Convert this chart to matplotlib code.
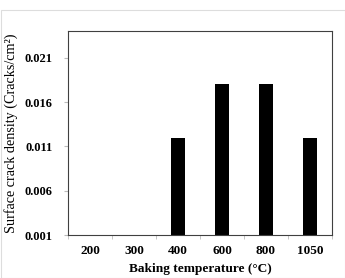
import matplotlib
matplotlib.use("Agg")
import matplotlib.pyplot as plt
from matplotlib.patches import Rectangle

categories = ["200", "300", "400", "600", "800", "1050"]
values = [0.001, 0.001, 0.012, 0.018, 0.018, 0.012]
yticks = [0.001, 0.006, 0.011, 0.016, 0.021]
ytick_labels = ["0.001", "0.006", "0.011", "0.016", "0.021"]

plt.rcParams['font.family'] = ['Liberation Serif', 'DejaVu Serif']

fig = plt.figure(figsize=(3.45, 2.78), dpi=100)
ax = fig.add_axes([68/345, 1-235.3/278, (332-68)/345, (235.3-31)/278])

base = 0.001
x = list(range(len(categories)))
heights = [v - base for v in values]
ax.bar(x, heights, bottom=base, width=0.3, color='black')

ax.set_xlim(-0.5, len(categories) - 0.5)
ax.set_ylim(0.001, 0.024)
ax.set_yticks(yticks)
ax.set_yticklabels(ytick_labels, fontsize=9, fontweight='bold')
ax.set_xticks([i for i in x])
ax.set_xticklabels(categories, fontsize=9.5, fontweight='bold')
ax.tick_params(axis='x', length=0, pad=7)
ax.set_xticks([i - 0.5 for i in range(len(categories) + 1)], minor=True)
ax.tick_params(axis='x', which='minor', length=3, direction='out', color='#bbbbbb')
ax.tick_params(axis='y', length=3, direction='out', color='#bbbbbb', pad=8)

for s in ax.spines.values():
    s.set_color('#404040')
    s.set_linewidth(0.8)

ax.set_xlabel("Baking temperature (°C)", fontsize=9.6, fontweight='bold', labelpad=4)
ax.set_ylabel("Surface crack density (Cracks/cm²)", fontsize=10.2, labelpad=5)

fig.patches.append(Rectangle((0.5/345, 0), 1 - 1/345, 1 - 9.5/278,
                             transform=fig.transFigure, fill=False,
                             edgecolor='#dddddd', linewidth=0.8))

fig.savefig("out.png", dpi=100)
